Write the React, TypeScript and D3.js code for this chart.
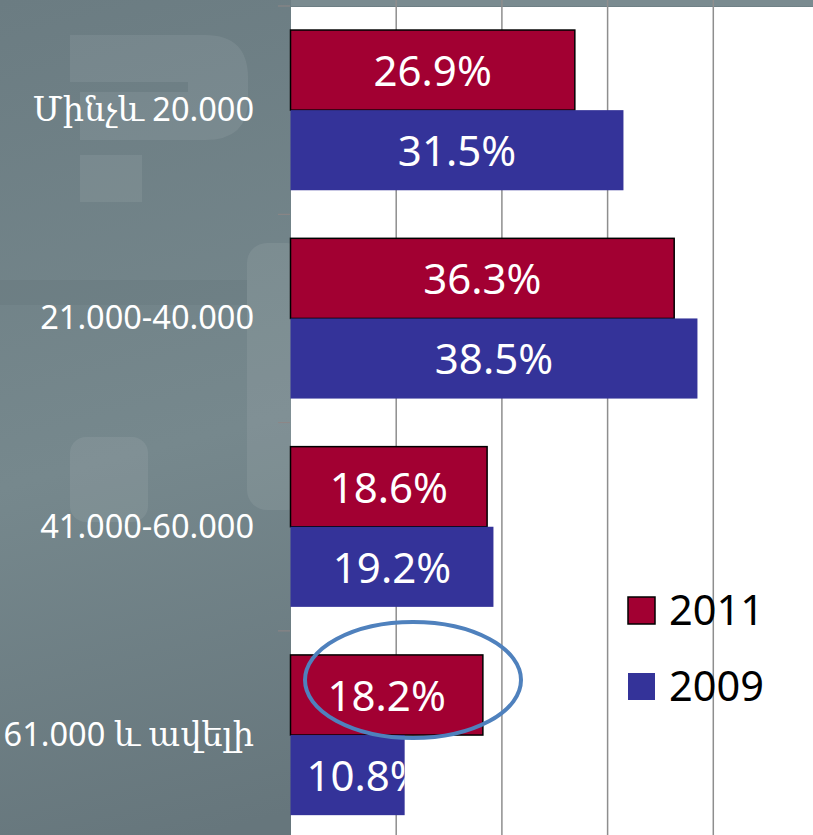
import React from "react";
import * as d3 from "d3";

const categories = ["Մինչև 20.000", "21.000-40.000", "41.000-60.000", "61.000 և ավելի"];
const series = ["2011", "2009"];
const values2011 = [26.9, 36.3, 18.6, 18.2];
const values2009 = [31.5, 38.5, 19.2, 10.8];
const gridTicks = [10, 20, 30, 40];
const colors = ["#A20032", "#343399"];

const W = 813;
const H = 835;

// split a string into runs of Armenian / non-Armenian characters
function runs(s: string) {
  const out: { t: string; arm: boolean }[] = [];
  for (const ch of s) {
    const arm = /[\u0530-\u058F]/.test(ch);
    const last = out[out.length - 1];
    if (last && last.arm === arm) last.t += ch;
    else out.push({ t: ch, arm });
  }
  return out;
}

export default function App() {
  const x = d3.scaleLinear().domain([0, 50]).range([290.5, 819]);
  const y0 = d3.scaleBand<string>().domain(categories).range([6, 6 + 4 * 208.3]).paddingInner(0).paddingOuter(0);
  const y1 = d3.scaleBand<string>().domain(series).range([0, y0.bandwidth()]).paddingInner(0).paddingOuter(0.3);
  const seriesValues = [values2011, values2009];
  const labelFont = "'Noto Sans', 'DejaVu Serif', sans-serif";
  const armFont = "'DejaVu Serif', serif";

  return (
    <svg width={W} height={H} style={{ position: "absolute", left: 0, top: 0, display: "block" }}>
      <defs>
        <linearGradient id="bg" x1="0" y1="0" x2="0.25" y2="1">
          <stop offset="0" stopColor="#6B7C82" />
          <stop offset="0.55" stopColor="#76888D" />
          <stop offset="1" stopColor="#66767C" />
        </linearGradient>
        {categories.map((c, ci) =>
          series.map((s, si) => {
            const v = seriesValues[si][ci];
            const by = (y0(c) as number) + (y1(s) as number);
            return (
              <clipPath id={`clip-${ci}-${si}`} key={`c-${ci}-${si}`}>
                <rect x={x(0)} y={by} width={x(v) - x(0)} height={y1.bandwidth()} />
              </clipPath>
            );
          })
        )}
      </defs>
      <rect x={0} y={0} width={W} height={H} fill="url(#bg)" />
      {/* faint decorative shapes */}
      <g fill="#ffffff" fillOpacity={0.075}>
        <path d="M70,35 H205 Q248,35 248,78 V100 Q248,140 205,140 H80 V92 H188 V82 H70 Z" />
        <rect x={80} y={155} width={62} height={47} />
        <rect x={247} y={243} width={60} height={267} rx={20} />
        <rect x={70} y={437} width={78} height={85} rx={16} />
      </g>
      <rect x={0} y={280} width={247} height={25} fill="#000" fillOpacity={0.035} />
      {/* top band */}
      <rect x={291} y={0} width={W - 291} height={6} fill="#7A8B90" />
      {/* plot area */}
      <rect x={291} y={7} width={W - 291} height={H - 7} fill="#ffffff" />
      {/* gridlines */}
      {gridTicks.map((t) => (
        <line key={t} x1={x(t)} x2={x(t)} y1={0} y2={H} stroke="#8E8E8E" strokeWidth={1.5} />
      ))}
      {/* category tick marks */}
      {categories.map((c) => (
        <line key={c} x1={278} x2={290} y1={y0(c) as number} y2={y0(c) as number} stroke="#8E8686" strokeWidth={1} />
      ))}
      {/* bars */}
      {categories.map((c, ci) =>
        series.map((s, si) => {
          const v = seriesValues[si][ci];
          const by = (y0(c) as number) + (y1(s) as number);
          const bw = x(v) - x(0);
          const bh = y1.bandwidth();
          return (
            <rect
              key={`b-${ci}-${si}`}
              x={x(0)}
              y={by}
              width={bw}
              height={bh}
              fill={colors[si]}
              stroke={si === 0 ? "#000" : "none"}
              strokeWidth={si === 0 ? 1.5 : 0}
            />
          );
        })
      )}
      {/* bar labels */}
      {categories.map((c, ci) =>
        series.map((s, si) => {
          const v = seriesValues[si][ci];
          const by = (y0(c) as number) + (y1(s) as number);
          const cx = Math.max((x(0) + x(v)) / 2, x(0) + 75);
          return (
            <text
              key={`l-${ci}-${si}`}
              clipPath={`url(#clip-${ci}-${si})`}
              x={cx}
              y={by + y1.bandwidth() / 2}
              dy="0.38em"
              textAnchor="middle"
              fill="#ffffff"
              fontFamily={labelFont}
              fontSize={42}
            >
              {v.toFixed(1)}%
            </text>
          );
        })
      )}
      {/* category labels */}
      {categories.map((c) => (
        <text
          key={`t-${c}`}
          x={254}
          y={(y0(c) as number) + y0.bandwidth() / 2 + 11}
          textAnchor="end"
          fill="#ffffff"
          fontFamily={labelFont}
          fontSize={32.5}
        >
          {runs(c).map((r, i) =>
            r.arm ? (
              <tspan key={i} fontFamily={armFont} fontSize={33.5}>
                {r.t}
              </tspan>
            ) : (
              <tspan key={i}>{r.t}</tspan>
            )
          )}
        </text>
      ))}
      {/* legend */}
      {series.map((s, si) => (
        <g key={`lg-${s}`} transform={`translate(628, ${597 + si * 76})`}>
          <rect x={0} y={0} width={27} height={27} fill={colors[si]} stroke={si === 0 ? "#000" : "none"} strokeWidth={1.5} />
          <text x={41} y={28} fill="#000" fontFamily={labelFont} fontSize={41.5}>
            {s}
          </text>
        </g>
      ))}
      {/* highlight ellipse */}
      <ellipse cx={413} cy={680} rx={108} ry={58} fill="none" stroke="#4F81BD" strokeWidth={4} />
    </svg>
  );
}
